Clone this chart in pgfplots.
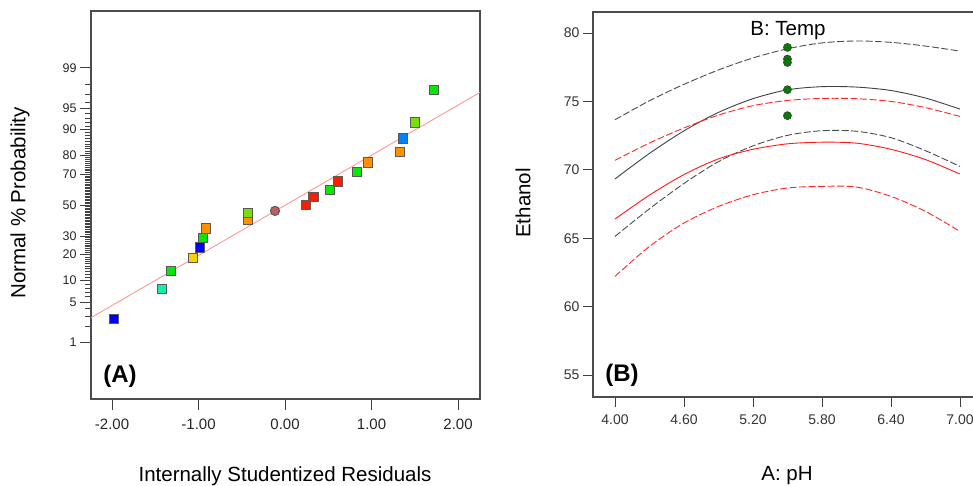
\documentclass[border=0pt]{standalone}
\usepackage{fontspec}
\setmainfont{Liberation Sans}
\usepackage{pgfplots}
\pgfplotsset{compat=1.18}

\definecolor{mblue}{RGB}{0,0,245}
\definecolor{maqua}{RGB}{20,240,170}
\definecolor{mgreen}{RGB}{10,230,10}
\definecolor{myellow}{RGB}{250,210,0}
\definecolor{morange}{RGB}{255,145,0}
\definecolor{myg}{RGB}{120,225,0}
\definecolor{mbrown}{RGB}{190,95,95}
\definecolor{mred}{RGB}{250,30,0}
\definecolor{mlblue}{RGB}{0,130,250}
\definecolor{fitline}{RGB}{255,150,150}
\definecolor{dotgreen}{RGB}{0,128,0}

\begin{document}
\begin{tikzpicture}[x=1pt,y=1pt]
\path[use as bounding box] (0,0) rectangle (973,486);

% (A) normal probability plot, y in probit units
\begin{axis}[
  at={(91pt,87pt)}, anchor=south west,
  scale only axis, width=389pt, height=388pt,
  xmin=-2.243, xmax=2.254, ymin=-3.29, ymax=3.29,
  axis line style={black!70, line width=1.1pt},
  tick align=outside, xtick pos=bottom, ytick pos=left,
  major tick length=11pt, minor tick length=6pt,
  major tick style={black!75, line width=0.8pt},
  minor tick style={black!75, line width=0.5pt},
  xtick={-2,-1,0,1,2},
  xticklabels={-2.00,-1.00,0.00,1.00,2.00},
  ytick={-2.3263,-1.6449,-1.2816,-0.8416,-0.5244,0,0.5244,0.8416,1.2816,1.6449,2.3263},
  yticklabels={1,5,10,20,30,50,70,80,90,95,99},
  minor ytick={-2.0537,-1.8808,-1.7507,-1.5548,-1.4758,-1.4051,-1.3408,-1.2265,-1.1750,-1.1264,-1.0803,-1.0364,-0.9945,-0.9542,-0.9154,-0.8779,-0.8064,-0.7722,-0.7388,-0.7063,-0.6745,-0.6433,-0.6128,-0.5828,-0.5534,-0.4959,-0.4677,-0.4399,-0.4125,-0.3853,-0.3585,-0.3319,-0.3055,-0.2793,-0.2533,-0.2275,-0.2019,-0.1764,-0.1510,-0.1257,-0.1004,-0.0753,-0.0502,-0.0251,
  0.0251,0.0502,0.0753,0.1004,0.1257,0.1510,0.1764,0.2019,0.2275,0.2533,0.2793,0.3055,0.3319,0.3585,0.3853,0.4125,0.4399,0.4677,0.4959,0.5534,0.5828,0.6128,0.6433,0.6745,0.7063,0.7388,0.7722,0.8064,0.8779,0.9154,0.9542,0.9945,1.0364,1.0803,1.1264,1.1750,1.2265,1.3408,1.4051,1.4758,1.5548,1.7507,1.8808,2.0537},
  xticklabel style={font=\fontsize{15}{15}\selectfont, text=black!85, yshift=-5pt},
  yticklabel style={font=\fontsize{12.5}{12.5}\selectfont, text=black!85},
]
\addplot[fitline, line width=0.9pt] coordinates {(-2.254,-1.92) (2.266,1.92)};

\addplot[scatter, only marks, mark=square*, mark size=4.6pt,
  scatter src=explicit symbolic,
  mark options={line width=1pt},
  scatter/classes={
    bl={draw=black!65, fill=mblue},
    aq={draw=black!65, fill=maqua},
    gr={draw=black!65, fill=mgreen},
    ye={draw=black!65, fill=myellow},
    or={draw=black!65, fill=morange},
    yg={draw=black!65, fill=myg},
    rd={draw=black!65, fill=mred},
    lb={draw=black!65, fill=mlblue},
    br={mark=*, draw=black!65, fill=mbrown}
  }] table[meta=c] {
x      y      c
-1.98  -1.94  bl
-1.425 -1.42  aq
-1.318 -1.12  gr
-1.067 -0.90  ye
-0.98  -0.72  bl
-0.944 -0.56  gr
-0.917 -0.40  or
-0.424 -0.26  or
-0.424 -0.136 yg
-0.116 -0.10  br
0.243  0.005  rd
0.33   0.14   rd
0.517  0.26   gr
0.613  0.40   rd
0.829  0.56   gr
0.956  0.72   or
1.326  0.905  or
1.36   1.126  lb
1.50   1.40   yg
1.72   1.95   gr
};
\end{axis}

% (B) one-factor plot
\begin{axis}[
  at={(593pt,89pt)}, anchor=south west,
  scale only axis, width=382pt, height=385pt,
  xmin=3.809, xmax=7.131, ymin=53.39, ymax=81.54,
  axis line style={black!70, line width=1.1pt},
  tick align=outside, xtick pos=bottom, ytick pos=left,
  major tick length=10pt,
  major tick style={black!75, line width=0.8pt},
  xtick={4,4.6,5.2,5.8,6.4,7},
  xticklabels={4.00,4.60,5.20,5.80,6.40,7.00},
  ytick={55,60,65,70,75,80},
  yticklabels={55,60,65,70,75,80},
  xticklabel style={font=\fontsize{14}{14}\selectfont, text=black!80, yshift=-4pt},
  yticklabel style={font=\fontsize{14}{14}\selectfont, text=black!80},
]
% upper black dashed
\addplot[black!70, line width=0.9pt, smooth, dash pattern=on 7pt off 2.5pt] coordinates {
(4.0,73.66) (4.3,75.05) (4.6,76.25) (4.9,77.30) (5.2,78.18) (5.5,78.85)
(5.8,79.28) (6.1,79.42) (6.4,79.32) (6.7,79.05) (7.0,78.68)};
% black solid
\addplot[black!75, line width=0.9pt, smooth] coordinates {
(4.0,69.33) (4.3,71.20) (4.6,72.85) (4.9,74.20) (5.2,75.20) (5.5,75.85)
(5.8,76.08) (6.1,76.05) (6.4,75.80) (6.7,75.25) (7.0,74.44)};
% upper red dashed
\addplot[red!85, line width=0.9pt, smooth, dash pattern=on 7pt off 2.5pt] coordinates {
(4.0,70.69) (4.3,71.96) (4.6,73.06) (4.9,74.00) (5.2,74.69) (5.5,75.07)
(5.8,75.22) (6.1,75.20) (6.4,75.00) (6.7,74.55) (7.0,73.90)};
% lower black dashed
\addplot[black!70, line width=0.9pt, smooth, dash pattern=on 7pt off 2.5pt] coordinates {
(4.0,65.13) (4.3,67.15) (4.6,69.00) (4.9,70.60) (5.2,71.75) (5.5,72.52)
(5.8,72.86) (6.1,72.82) (6.4,72.35) (6.7,71.40) (7.0,70.25)};
% red solid
\addplot[red!90, line width=0.9pt, smooth] coordinates {
(4.0,66.40) (4.3,68.15) (4.6,69.65) (4.9,70.80) (5.2,71.50) (5.5,71.90)
(5.8,72.02) (6.1,71.95) (6.4,71.50) (6.7,70.75) (7.0,69.69)};
% lower red dashed
\addplot[red!85, line width=0.9pt, smooth, dash pattern=on 7pt off 2.5pt] coordinates {
(4.0,62.21) (4.3,64.40) (4.6,66.11) (4.9,67.32) (5.2,68.18) (5.5,68.67)
(5.8,68.79) (6.1,68.74) (6.4,68.06) (6.7,66.96) (7.0,65.50)};
% design points
\addplot[only marks, mark=*, mark size=4pt,
  mark options={draw=black!75, fill=dotgreen, line width=0.7pt}] coordinates {
(5.5,78.95) (5.5,78.10) (5.5,77.85) (5.5,75.86) (5.5,73.96)};
\end{axis}

\node[rotate=90, font=\fontsize{20.5}{20.5}\selectfont] at (20,283) {Normal \% Probability};
\node[rotate=90, font=\fontsize{20.5}{20.5}\selectfont] at (523,283) {Ethanol};
\node[font=\fontsize{20.5}{20.5}\selectfont] at (285,10) {Internally Studentized Residuals};
\node[font=\fontsize{20.5}{20.5}\selectfont] at (787,10) {A: pH};
\node[font=\fontsize{20.5}{20.5}\selectfont] at (788,455) {B: Temp};
\node[font=\fontsize{24}{24}\selectfont\bfseries] at (120,110) {(A)};
\node[font=\fontsize{24}{24}\selectfont\bfseries] at (622,111) {(B)};
\end{tikzpicture}
\end{document}
